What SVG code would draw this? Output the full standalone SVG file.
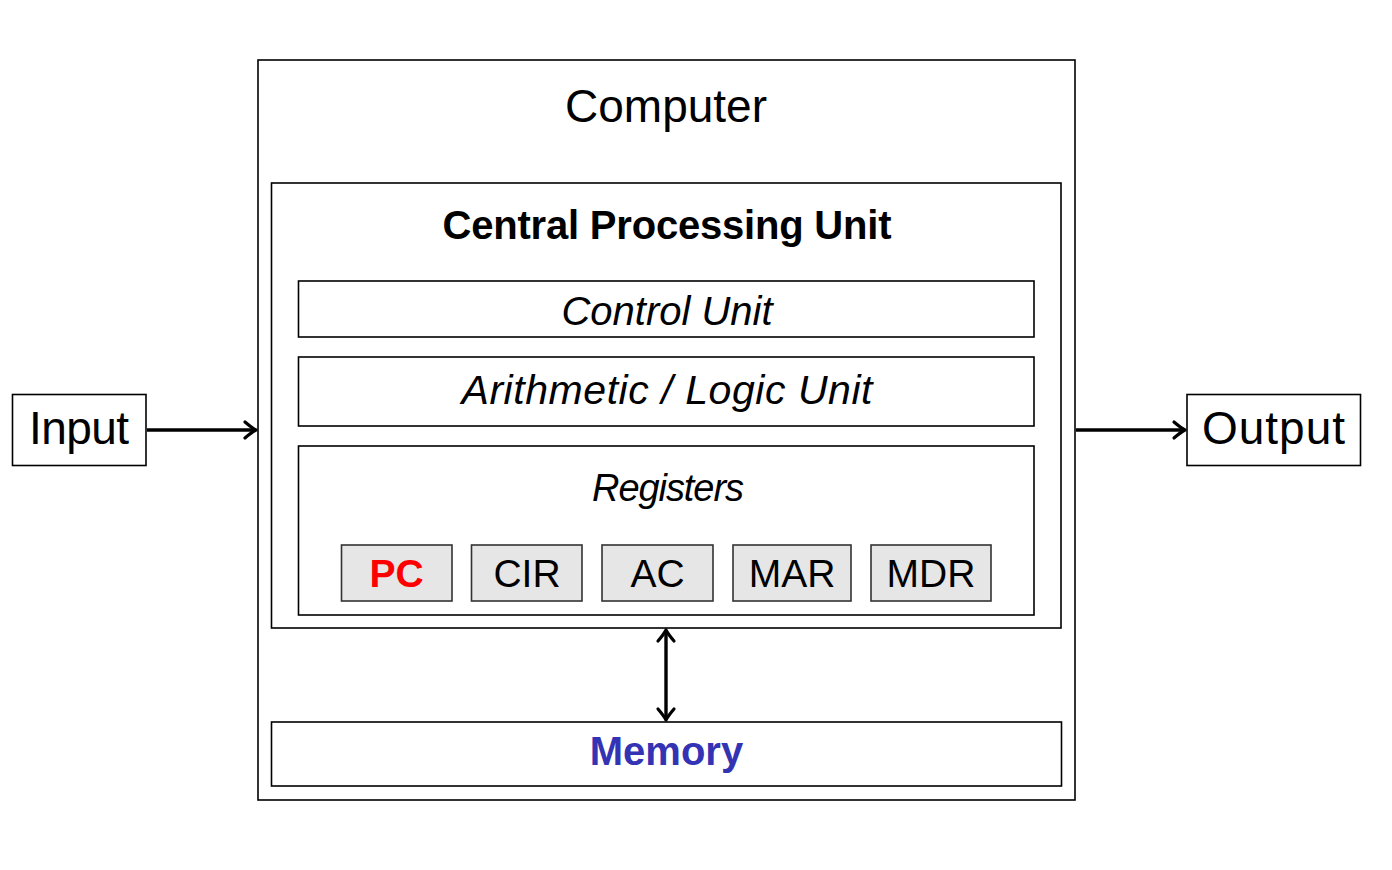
<svg xmlns="http://www.w3.org/2000/svg" width="1392" height="870" viewBox="0 0 1392 870">
<defs>
<style>
.box{fill:#fff;stroke:#000;stroke-width:1.6}
.reg{fill:#e6e6e6;stroke:#333;stroke-width:1.6}
.t{font-family:"Liberation Sans",Arial,sans-serif;text-anchor:middle;fill:#000}
.it{font-style:italic}
.b{font-weight:bold}
.conn{stroke:#000;stroke-width:3.4;fill:none}
</style>
<marker id="arr" markerUnits="userSpaceOnUse" markerWidth="24" markerHeight="24" viewBox="-14 -12 16 24" refX="0" refY="0" orient="auto-start-reverse">
<path d="M -11 -8 Q -4 -2 0 0 Q -4 2 -11 8" fill="none" stroke="#000" stroke-width="3.2" stroke-linecap="round" stroke-linejoin="round"/>
</marker>
</defs>
<rect width="1392" height="870" fill="#fff"/>
<g id="computer">
<rect class="box" x="258" y="60" width="817" height="740"/>
<text class="t" x="666" y="122" font-size="46">Computer</text>
</g>
<g id="cpu">
<rect class="box" x="271.5" y="183" width="789.5" height="445"/>
<text class="t b" x="667" y="239" font-size="40" textLength="449">Central Processing Unit</text>
</g>
<g id="control-unit">
<rect class="box" x="298.5" y="281" width="735.5" height="56"/>
<text class="t it" x="667" y="325" font-size="40">Control Unit</text>
</g>
<g id="alu">
<rect class="box" x="298.5" y="357" width="735.5" height="69"/>
<text class="t it" x="667" y="404" font-size="41" textLength="411">Arithmetic / Logic Unit</text>
</g>
<g id="registers">
<rect class="box" x="298.5" y="446" width="735.5" height="169"/>
<text class="t it" x="668" y="501" font-size="38" textLength="152">Registers</text>
</g>
<g id="pc">
<rect class="reg" x="341.5" y="545" width="110.5" height="56"/>
<text class="t b" x="396.5" y="587" font-size="39" style="fill:#ff0000">PC</text>
</g>
<g id="cir">
<rect class="reg" x="471.5" y="545" width="110.5" height="56"/>
<text class="t" x="527" y="587" font-size="39">CIR</text>
</g>
<g id="ac">
<rect class="reg" x="602" y="545" width="111" height="56"/>
<text class="t" x="657.5" y="587" font-size="39">AC</text>
</g>
<g id="mar">
<rect class="reg" x="733" y="545" width="118" height="56"/>
<text class="t" x="792" y="587" font-size="39">MAR</text>
</g>
<g id="mdr">
<rect class="reg" x="871" y="545" width="120" height="56"/>
<text class="t" x="931" y="587" font-size="39">MDR</text>
</g>
<g id="memory">
<rect class="box" x="271.5" y="722" width="790" height="64"/>
<text class="t b" x="666.5" y="765" font-size="40" style="fill:#3333b3">Memory</text>
</g>
<g id="input">
<rect class="box" x="12.5" y="394.5" width="133.5" height="71"/>
<text class="t" x="79" y="444" font-size="46" textLength="100">Input</text>
</g>
<g id="output">
<rect class="box" x="1187" y="394.5" width="173.5" height="71"/>
<text class="t" x="1273.5" y="444" font-size="46" textLength="143">Output</text>
</g>
<g id="connectors">
<line class="conn" x1="147" y1="430" x2="256" y2="430" marker-end="url(#arr)"/>
<line class="conn" x1="1076" y1="430" x2="1185" y2="430" marker-end="url(#arr)"/>
<line class="conn" x1="666" y1="630" x2="666" y2="720" marker-start="url(#arr)" marker-end="url(#arr)"/>
</g>
</svg>
